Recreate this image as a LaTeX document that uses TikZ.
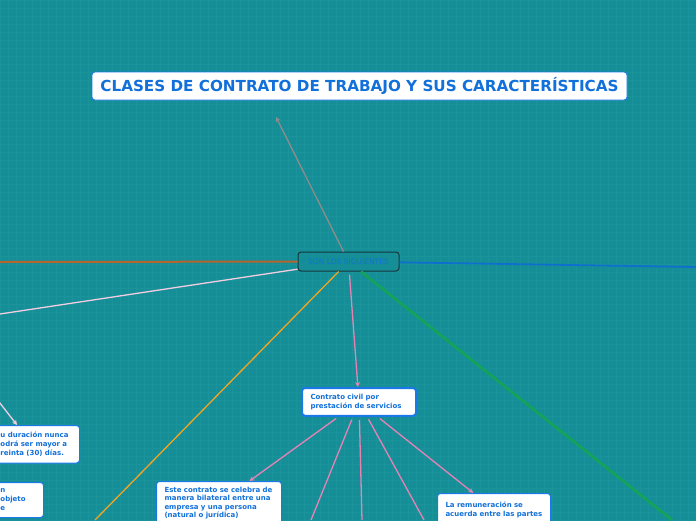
\documentclass[tikz,border=0pt]{standalone}
\usepackage{fontspec}
\setmainfont{DejaVu Sans}
\usetikzlibrary{arrows.meta}
\definecolor{bg}{HTML}{168E97}
\definecolor{gridc}{HTML}{1A939B}
\definecolor{txtblue}{HTML}{1170D9}
\definecolor{nodeblue}{HTML}{1A78E8}
\definecolor{darkedge}{HTML}{17373B}
\definecolor{greyl}{HTML}{8C8C8C}
\definecolor{brownl}{HTML}{B4662C}
\definecolor{lpink}{HTML}{F3CDE0}
\definecolor{bluel}{HTML}{0E6FCF}
\definecolor{orangel}{HTML}{F2A51F}
\definecolor{greenl}{HTML}{13A35A}
\definecolor{pinkl}{HTML}{E683B5}
\begin{document}
\begin{tikzpicture}[x=1pt,y=-1pt,
  leaf/.style={draw=nodeblue, line width=1pt, fill=white, rounded corners=3pt,
    font=\bfseries\fontsize{7}{9}\selectfont, text=txtblue, align=left,
    inner xsep=8pt, inner ysep=6.5pt},
  titlebox/.style={draw=nodeblue, line width=0.8pt, fill=white, rounded corners=3pt,
    font=\bfseries\fontsize{15.2}{17}\selectfont, text=txtblue,
    minimum width=535pt, minimum height=28pt, inner sep=0pt},
  centerbox/.style={draw=darkedge, line width=1pt, fill=bg, rounded corners=3pt,
    font=\fontsize{7.5}{9}\selectfont, text=txtblue,
    minimum width=101pt, minimum height=19pt, inner sep=0pt},
  tip/.style={-{Stealth[length=5pt,width=5pt]}},
  conn/.style={line width=1.3pt}
]
\useasboundingbox (0,0) rectangle (696,520);
\clip (0,0) rectangle (696,520);
\fill[bg] (0,0) rectangle (696,520);
\draw[gridc, line width=0.6pt, step=8pt] (0,0) grid (696,520);

% nodes
\node[titlebox] (title) at (359.5,86) {CLASES DE CONTRATO DE TRABAJO Y SUS CARACTERÍSTICAS};
\node[centerbox] (son) at (348.5,261.5) {SON LOS SIGUIENTES};
\node[leaf, line width=2pt, anchor=north west, text width=97pt, inner xsep=8.5pt, inner ysep=6pt] (civil) at (301,387) {Contrato civil por\\prestación de servicios};
\node[leaf, anchor=north west, text width=109pt, inner ysep=5.5pt, font=\bfseries\fontsize{7}{8.4}\selectfont] (este) at (156,481) {Este contrato se celebra de\\manera bilateral entre una\\empresa y una persona\\(natural o jurídica)};
\node[leaf, anchor=north west, text width=97pt, inner ysep=8pt] (remun) at (437,493) {La remuneración se\\acuerda entre las partes};
\node[leaf, anchor=north west, text width=71pt] (left1) at (-8,425) {u duración nunca\\odrá ser mayor a\\reinta (30) días.};
\node[leaf, anchor=north west, text width=35pt] (left2) at (-8,482) {n\\objeto\\e};

% free ends
\coordinate (gtip) at (276,117);
\coordinate (bend) at (0,262);
\coordinate (wend) at (0,314);
\coordinate (blend) at (696,267);
\coordinate (oend) at (95,520);
\coordinate (gend) at (672,520);
\coordinate (p1) at (311,520);
\coordinate (p2) at (362,520);
\coordinate (p3) at (424,520);
\coordinate (lstart) at (-4,398);

% connectors
\draw[conn, greyl, tip] (son) -- (gtip);
\draw[line width=2pt, brownl] (son) -- (bend);
\draw[conn, lpink] (son) -- (wend);
\draw[line width=1.8pt, bluel] (son) -- (blend);
\draw[conn, orangel] (son) -- (oend);
\draw[line width=2.8pt, greenl] (son) -- (gend);
\draw[conn, pinkl, tip, shorten <=3pt] (son) -- (civil);
\draw[conn, pinkl, tip, shorten <=3pt] (civil) -- (este);
\draw[conn, pinkl, shorten <=3pt] (civil) -- (p1);
\draw[conn, pinkl, shorten <=3pt] (civil) -- (p2);
\draw[conn, pinkl, shorten <=3pt] (civil) -- (p3);
\draw[conn, pinkl, tip, shorten <=3pt] (civil) -- (remun);
\draw[conn, lpink, tip] (lstart) -- ([xshift=25pt]left1.north west);
\end{tikzpicture}
\end{document}
